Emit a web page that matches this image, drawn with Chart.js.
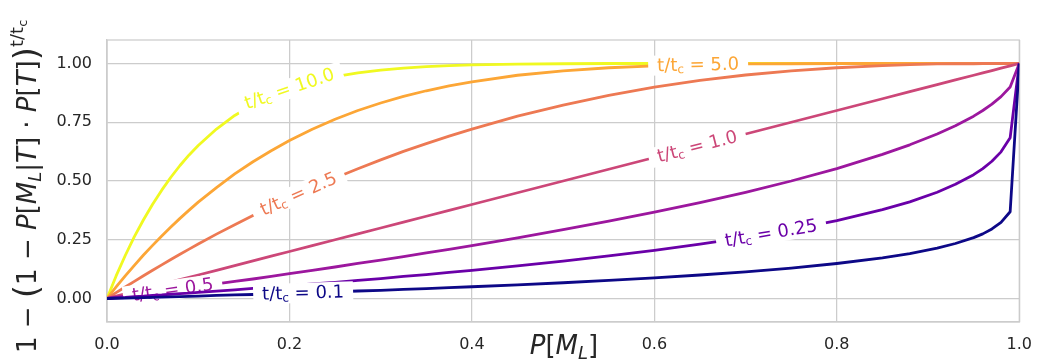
<!DOCTYPE html>
<html>
<head>
<meta charset="utf-8">
<script src="https://cdn.jsdelivr.net/npm/chart.js@4.4.1/dist/chart.umd.min.js"></script>
<style>
  html, body { margin: 0; padding: 0; background: #fff; }
</style>
</head>
<body>
<canvas id="chart" width="1045" height="362"></canvas>
<script>
// P[M_L] sample points
const xValues = [0, .01, .02, .03, .04, .05, .06, .07, .08, .09, .10, .12, .14, .16, .18, .20, .225, .25, .275, .30, .325,
  .35, .375, .40, .45, .50, .55, .60, .65, .70, .75, .80, .85, .88, .91, .93, .95, .96, .97, .98, .99, 1];

// one curve per t/t_c ratio
const ratios = ["0.1", "0.25", "0.5", "1.0", "2.5", "5.0", "10.0"];
const r01 = [0, .001, .002, .003, .004, .005, .006, .007, .008, .009, .010, .013, .015, .017, .020, .022, .025, .028, .032,
  .035, .039, .042, .046, .050, .058, .067, .077, .088, .100, .113, .129, .149, .173, .191, .214, .234, .259, .275, .296,
  .324, .369, 1];
const r025 = [0, .003, .005, .008, .010, .013, .015, .018, .021, .023, .026, .031, .037, .043, .048, .054, .062, .069, .077,
  .085, .094, .102, .111, .120, .139, .159, .181, .205, .231, .260, .293, .331, .378, .411, .452, .486, .527, .553, .584,
  .624, .684, 1];
const r05 = [0, .005, .010, .015, .020, .025, .030, .036, .041, .046, .051, .062, .073, .083, .094, .106, .120, .134, .149,
  .163, .178, .194, .209, .225, .258, .293, .329, .368, .408, .452, .500, .553, .613, .654, .700, .735, .776, .800, .827,
  .859, .900, 1];
const r1 = [0, .01, .02, .03, .04, .05, .06, .07, .08, .09, .10, .12, .14, .16, .18, .20, .225, .25, .275, .30, .325,
  .35, .375, .40, .45, .50, .55, .60, .65, .70, .75, .80, .85, .88, .91, .93, .95, .96, .97, .98, .99, 1];
const r25 = [0, .025, .049, .073, .097, .120, .143, .166, .188, .210, .232, .274, .314, .353, .391, .428, .471, .513, .552,
  .590, .626, .659, .691, .721, .776, .823, .864, .899, .928, .951, .969, .982, .991, .995, .998, .999, .999, 1, 1,
  1, 1, 1];
const r5 = [0, .049, .096, .141, .185, .226, .266, .304, .341, .376, .410, .472, .530, .582, .629, .672, .720, .763, .800,
  .832, .860, .884, .905, .922, .950, .969, .982, .990, .995, .998, .999, 1, 1, 1, 1, 1, 1, 1, 1,
  1, 1, 1];
const r10 = [0, .096, .183, .263, .335, .401, .461, .516, .566, .611, .651, .721, .779, .825, .863, .893, .922, .944, .960,
  .972, .980, .987, .991, .994, .997, .999, 1, 1, 1, 1, 1, 1, 1, 1, 1, 1, 1, 1, 1,
  1, 1, 1];
const series = [r01, r025, r05, r1, r25, r5, r10];

const xTicks = [0, 0.2, 0.4, 0.6, 0.8, 1.0];
const yTicks = [0, 0.25, 0.5, 0.75, 1.0];

// where along x each inline label sits
const labelAt = [0.215, 0.728, 0.072, 0.647, 0.21, 0.648, 0.2];

const colors = ["#0d0887", "#6a00a8", "#9c179e", "#cc4778", "#ed7953", "#fca636", "#f0f921"];
const gridColor = "#cccccc";
const textColor = "#262626";
const FONT = "DejaVu Sans";

function interp(xs, ys, x) {
  for (let i = 1; i < xs.length; i++) {
    if (x <= xs[i]) {
      const t = (x - xs[i - 1]) / (xs[i] - xs[i - 1]);
      return ys[i - 1] + t * (ys[i] - ys[i - 1]);
    }
  }
  return ys[ys.length - 1];
}

function runsWidth(ctx, runs) {
  let w = 0;
  for (const r of runs) { ctx.font = r.f; w += ctx.measureText(r.t).width; }
  return w;
}
function drawRuns(ctx, runs, x, y) {
  for (const r of runs) {
    ctx.font = r.f;
    ctx.fillText(r.t, x, y + (r.dy || 0));
    x += ctx.measureText(r.t).width;
  }
}

const curveLabels = {
  id: "curveLabels",
  beforeDatasetsDraw(chart) {
    const { ctx, chartArea: a } = chart;
    ctx.save();
    ctx.strokeStyle = gridColor;
    ctx.lineWidth = 1.25;
    ctx.strokeRect(a.left, a.top, a.right - a.left, a.bottom - a.top);
    ctx.restore();
  },
  afterDatasetDraw(chart, args) {
    const i = args.index;
    const { ctx } = chart;
    const xs = chart.scales.x, ys = chart.scales.y;
    const vals = series[i];
    const lx = labelAt[i];
    const d = 0.012;
    const px = xs.getPixelForValue(lx);
    const py = ys.getPixelForValue(interp(xValues, vals, lx));
    const ang = Math.atan2(
      ys.getPixelForValue(interp(xValues, vals, lx + d)) - ys.getPixelForValue(interp(xValues, vals, lx - d)),
      xs.getPixelForValue(lx + d) - xs.getPixelForValue(lx - d));
    const runs = [
      { t: "t/t", f: `18px ${FONT}` },
      { t: "c", f: `12px ${FONT}`, dy: 4 },
      { t: " = " + ratios[i], f: `18px ${FONT}` },
    ];
    ctx.save();
    ctx.translate(px, py);
    ctx.rotate(ang);
    const w = runsWidth(ctx, runs);
    ctx.fillStyle = "#fff";
    ctx.fillRect(-w / 2 - 9, -10, w + 18, 20);
    ctx.fillStyle = colors[i];
    ctx.textBaseline = "middle";
    drawRuns(ctx, runs, -w / 2, 1);
    ctx.restore();
  },
  afterDraw(chart) {
    const { ctx } = chart;
    ctx.save();
    ctx.fillStyle = textColor;
    ctx.textBaseline = "alphabetic";

    // y axis title
    const S = 26;
    const n = `${S}px ${FONT}`, it = `italic ${S}px ${FONT}`, big = `${Math.round(S * 1.3)}px ${FONT}`;
    const yRuns = [
      { t: "1 − ", f: n }, { t: "(", f: big, dy: 2 }, { t: "1 − ", f: n },
      { t: "P", f: it }, { t: "[", f: n }, { t: "M", f: it },
      { t: "L", f: `italic ${Math.round(S * 0.7)}px ${FONT}`, dy: 5 },
      { t: "|", f: n }, { t: "T", f: it }, { t: "] · ", f: n },
      { t: "P", f: it }, { t: "[", f: n }, { t: "T", f: it }, { t: "]", f: n },
      { t: ")", f: big, dy: 2 },
      { t: "t/t", f: `${Math.round(S * 0.7)}px ${FONT}`, dy: -13 },
      { t: "c", f: `${Math.round(S * 0.5)}px ${FONT}`, dy: -9 },
    ];
    ctx.translate(36, 353);
    ctx.rotate(-Math.PI / 2);
    drawRuns(ctx, yRuns, 0, 0);
    ctx.restore();

    // x axis title
    ctx.save();
    ctx.fillStyle = textColor;
    const S2 = 26;
    const xRuns = [
      { t: "P", f: `italic ${S2}px ${FONT}` }, { t: "[", f: `${S2}px ${FONT}` },
      { t: "M", f: `italic ${S2}px ${FONT}` },
      { t: "L", f: `italic ${Math.round(S2 * 0.7)}px ${FONT}`, dy: 5 },
      { t: "]", f: `${S2}px ${FONT}` },
    ];
    const w = runsWidth(ctx, xRuns);
    drawRuns(ctx, xRuns, 564 - w / 2, 354);
    ctx.restore();
  },
};

const datasets = series.map((vals, i) => ({
  label: "t/tc = " + ratios[i],
  data: xValues.map((x, j) => ({ x: x, y: vals[j] })),
  borderColor: colors[i],
  borderWidth: 2.8,
  borderJoinStyle: "round",
  pointRadius: 0,
  tension: 0,
  fill: false,
}));

new Chart(document.getElementById("chart"), {
  type: "line",
  data: { datasets: datasets },
  options: {
    responsive: false,
    animation: false,
    layout: { padding: { left: 0, right: 15, top: 40, bottom: 0 } },
    plugins: { legend: { display: false }, tooltip: { enabled: false } },
    scales: {
      x: {
        type: "linear",
        min: 0,
        max: 1,
        afterBuildTicks: (s) => { s.ticks = xTicks.map((v) => ({ value: v })); },
        afterFit: (s) => { s.height = 40; },
        ticks: {
          callback: (v) => v.toFixed(1),
          font: { family: FONT, size: 16 },
          color: textColor,
          padding: 13,
          maxRotation: 0,
        },
        grid: { color: gridColor, lineWidth: 1.25, drawTicks: false },
        border: { color: gridColor, width: 1.25 },
      },
      y: {
        min: -0.1,
        max: 1.1,
        afterBuildTicks: (s) => { s.ticks = yTicks.map((v) => ({ value: v })); },
        afterFit: (s) => { s.width = 107; },
        ticks: {
          callback: (v) => v.toFixed(2),
          font: { family: FONT, size: 16 },
          color: textColor,
          padding: 15,
        },
        grid: { color: gridColor, lineWidth: 1.25, drawTicks: false },
        border: { color: gridColor, width: 1.25 },
      },
    },
  },
  plugins: [curveLabels],
});
</script>
</body>
</html>
